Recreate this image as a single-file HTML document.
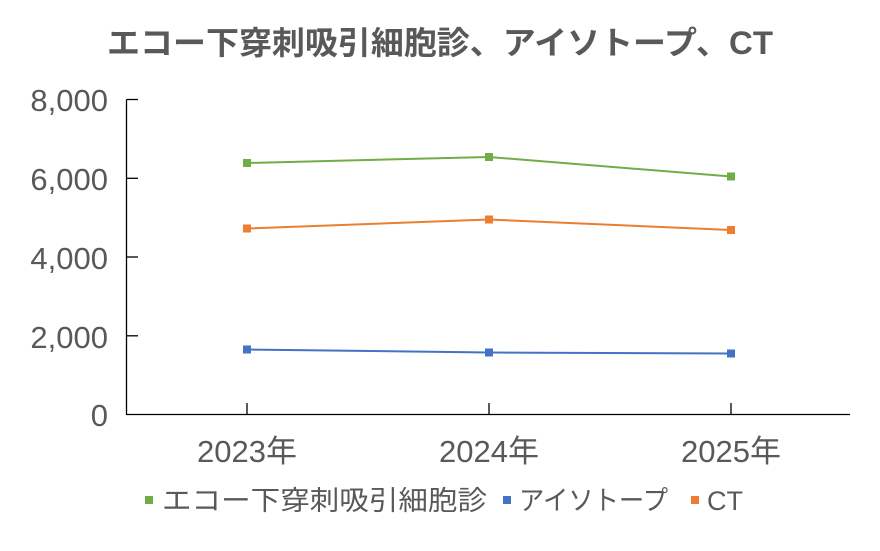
<!DOCTYPE html>
<html><head><meta charset="utf-8"><style>
html,body{margin:0;padding:0;background:#fff;}
svg text{font-family:"Liberation Sans","Noto Sans CJK JP",sans-serif;fill:#595959;}
</style></head><body>
<svg width="880" height="546" viewBox="0 0 880 546" xmlns="http://www.w3.org/2000/svg">
<rect width="880" height="546" fill="#fff"/>
<text x="440" y="54" font-size="32" font-weight="bold" text-anchor="middle" textLength="666" lengthAdjust="spacingAndGlyphs">エコー下穿刺吸引細胞診、アイソトープ、CT</text>
<g stroke="#000" stroke-width="1.3" fill="none">
<line x1="126.5" y1="99.5" x2="126.5" y2="415"/>
<line x1="126.5" y1="99.5" x2="138" y2="99.5"/>
<line x1="126.5" y1="178.3" x2="138" y2="178.3"/>
<line x1="126.5" y1="257" x2="138" y2="257"/>
<line x1="126.5" y1="335.8" x2="138" y2="335.8"/>
<line x1="126.5" y1="414.5" x2="850" y2="414.5"/>
<line x1="247" y1="403" x2="247" y2="414.5"/>
<line x1="489" y1="403" x2="489" y2="414.5"/>
<line x1="731" y1="403" x2="731" y2="414.5"/>
</g>
<g font-size="31" text-anchor="end">
<text x="108" y="111">8,000</text>
<text x="108" y="190">6,000</text>
<text x="108" y="269">4,000</text>
<text x="108" y="348">2,000</text>
<text x="108" y="426">0</text>
</g>
<g font-size="31" text-anchor="middle">
<text x="247" y="462">2023年</text>
<text x="489" y="462">2024年</text>
<text x="731" y="462">2025年</text>
</g>
<polyline points="247,163 489,157 731,176.5" fill="none" stroke="#70ad47" stroke-width="2"/>
<polyline points="247,228.5 489,219.5 731,230" fill="none" stroke="#ed7d31" stroke-width="2"/>
<polyline points="247,349.5 489,352.5 731,353.5" fill="none" stroke="#4472c4" stroke-width="2"/>
<g fill="#70ad47"><rect x="243" y="159" width="8" height="8"/><rect x="485" y="153" width="8" height="8"/><rect x="727" y="172.5" width="8" height="8"/></g>
<g fill="#ed7d31"><rect x="243" y="224.5" width="8" height="8"/><rect x="485" y="215.5" width="8" height="8"/><rect x="727" y="226" width="8" height="8"/></g>
<g fill="#4472c4"><rect x="243" y="345.5" width="8" height="8"/><rect x="485" y="348.5" width="8" height="8"/><rect x="727" y="349.5" width="8" height="8"/></g>
<g font-size="27">
<rect x="145" y="496" width="8" height="8" fill="#70ad47"/>
<text x="162" y="510" textLength="325" lengthAdjust="spacingAndGlyphs">エコー下穿刺吸引細胞診</text>
<rect x="503" y="496" width="8" height="8" fill="#4472c4"/>
<text x="519" y="510" textLength="149" lengthAdjust="spacingAndGlyphs">アイソトープ</text>
<rect x="691" y="496" width="8" height="8" fill="#ed7d31"/>
<text x="707" y="510">CT</text>
</g>
</svg>
</body></html>
